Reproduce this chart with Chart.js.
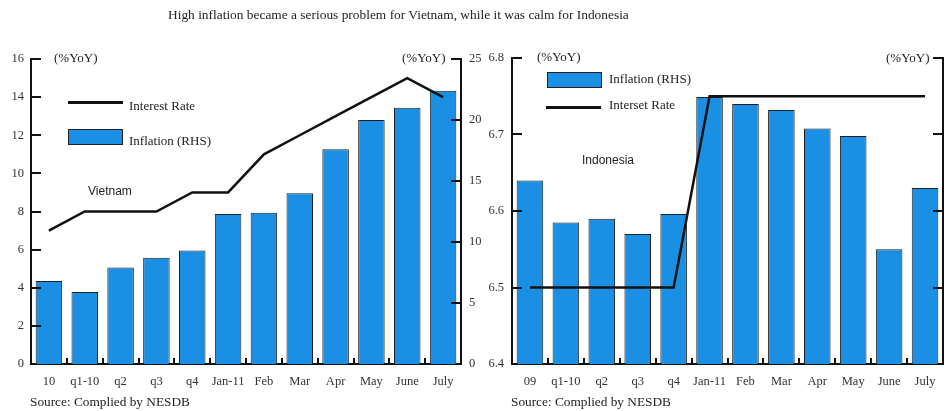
<!DOCTYPE html>
<html>
<head>
<meta charset="utf-8">
<script src="https://cdn.jsdelivr.net/npm/chart.js@4/dist/chart.umd.min.js"></script>
<style>
  html, body { margin: 0; padding: 0; background: #fff; }
  #wrap { position: relative; width: 949px; height: 411px; overflow: hidden; background: #fff; }
  canvas { position: absolute; left: 0; top: 0; }
  .t { position: absolute; white-space: nowrap; font-family: "Liberation Serif", "Times New Roman", serif; font-size: 13px; color: #222; line-height: 1; }
  .s { font-family: "Liberation Sans", Arial, sans-serif; font-size: 12px; color: #222; }
  .box { position: absolute; background: #1a8fe3; border: 1px solid #222; box-sizing: border-box; }
  .ln { position: absolute; height: 2.5px; background: #111; }
</style>
</head>
<body>
<div id="wrap">
  <canvas id="c1" width="949" height="411"></canvas>
  <canvas id="c2" width="949" height="411"></canvas>

  <div class="t" style="left:168px; top:8px; font-size:13.4px;">High inflation became a serious problem for Vietnam, while it was calm for Indonesia</div>

  <!-- Vietnam panel texts -->
  <div class="t" style="left:54px; top:51px;">(%YoY)</div>
  <div class="t" style="left:402px; top:51px;">(%YoY)</div>
  <div class="ln" style="left:68px; top:101px; width:55px;"></div>
  <div class="t" style="left:129px; top:99px;">Interest Rate</div>
  <div class="box" style="left:68px; top:129px; width:55px; height:16px;"></div>
  <div class="t" style="left:129px; top:134px;">Inflation (RHS)</div>
  <div class="t s" style="left:88px; top:185px;">Vietnam</div>
  <div class="t" style="left:30px; top:395px; font-size:13.3px;">Source: Complied by NESDB</div>

  <!-- Indonesia panel texts -->
  <div class="t" style="left:537px; top:50px;">(%YoY)</div>
  <div class="t" style="left:886px; top:51px;">(%YoY)</div>
  <div class="box" style="left:547px; top:72px; width:55px; height:16px;"></div>
  <div class="t" style="left:609px; top:72px;">Inflation (RHS)</div>
  <div class="ln" style="left:546px; top:106px; width:55px;"></div>
  <div class="t" style="left:609px; top:98px;">Interset Rate</div>
  <div class="t s" style="left:582px; top:154px;">Indonesia</div>
  <div class="t" style="left:511px; top:395px; font-size:13.3px;">Source: Complied by NESDB</div>
</div>

<script>
// ---------- Data ----------
const vnCategories = ["10", "q1-10", "q2", "q3", "q4", "Jan-11", "Feb", "Mar", "Apr", "May", "June", "July"];
const vnInflation = [6.8, 5.9, 7.9, 8.7, 9.3, 12.3, 12.4, 14.0, 17.6, 20.0, 21.0, 22.4];
const vnInterestRate = [7, 8, 8, 8, 9, 9, 11, 12, 13, 14, 15, 14];
const vnLeftTicks = [0, 16, 2];   // min, max, step
const vnRightTicks = [0, 25, 5];

const idCategories = ["09", "q1-10", "q2", "q3", "q4", "Jan-11", "Feb", "Mar", "Apr", "May", "June", "July"];
const idInflation = [6.64, 6.585, 6.59, 6.57, 6.596, 6.749, 6.74, 6.732, 6.708, 6.698, 6.55, 6.63];
const idInterestRate = [6.5, 6.5, 6.5, 6.5, 6.5, 6.75, 6.75, 6.75, 6.75, 6.75, 6.75, 6.75];
const idTicks = [6.4, 6.8, 0.1];

// ---------- Styles ----------
const BAR = '#1a8fe3';
const AXIS = '#111';
const tickFont = { family: '"Liberation Serif", "Times New Roman", serif', size: 12.5 };

const inwardTicks = {
  id: 'inwardTicks',
  afterDatasetsDraw(chart, args, opts) {
    const ctx = chart.ctx;
    const a = chart.chartArea;
    ctx.save();
    ctx.strokeStyle = AXIS;
    ctx.lineWidth = 2;
    const drawSide = (id, side) => {
      const sc = chart.scales[id];
      if (!sc) return;
      sc.ticks.forEach(t => {
        const y = Math.round(sc.getPixelForValue(t.value));
        if (y >= a.bottom - 1) return;
        ctx.beginPath();
        if (side === 'left') { ctx.moveTo(a.left, y); ctx.lineTo(a.left + 10, y); }
        else { ctx.moveTo(a.right, y); ctx.lineTo(a.right - 10, y); }
        ctx.stroke();
      });
    };
    drawSide(opts.left, 'left');
    drawSide(opts.right, 'right');
    const xs = chart.scales.x;
    const n = chart.data.labels.length;
    for (let i = 0; i < n - 1; i++) {
      const x = Math.round((xs.getPixelForValue(i) + xs.getPixelForValue(i + 1)) / 2);
      ctx.beginPath();
      ctx.moveTo(x, a.bottom);
      ctx.lineTo(x, a.bottom - 6);
      ctx.stroke();
    }
    ctx.restore();
  }
};

function makeChart(canvasId, labels, bars, line, cfg) {
  return new Chart(document.getElementById(canvasId), {
    data: {
      labels: labels,
      datasets: [
        {
          type: 'line', data: line, yAxisID: cfg.lineAxis, order: 0,
          borderColor: AXIS, borderWidth: 2.5, pointRadius: 0, tension: 0, fill: false
        },
        {
          type: 'bar', data: bars, yAxisID: cfg.barAxis, order: 1,
          backgroundColor: BAR, borderColor: '#1f1f1f', borderWidth: 1,
          categoryPercentage: 1.0, barPercentage: 0.74
        }
      ]
    },
    options: {
      responsive: false,
      animation: false,
      devicePixelRatio: 1,
      layout: { padding: { left: 0, right: 0, top: cfg.top, bottom: 0 } },
      plugins: { legend: { display: false }, tooltip: { enabled: false }, inwardTicks: { left: 'y', right: 'y1' } },
      scales: {
        x: {
          grid: { display: false, drawTicks: false },
          border: { display: true, color: AXIS, width: 2 },
          ticks: { font: tickFont, color: '#333', padding: 10, maxRotation: 0, autoSkip: false },
          afterFit: s => { s.height = 411 - 364; }
        },
        y: {
          position: 'left',
          min: cfg.left[0], max: cfg.left[1],
          grid: { display: false, drawTicks: false },
          border: { display: true, color: AXIS, width: 2 },
          ticks: { stepSize: cfg.left[2], font: tickFont, color: '#333', padding: cfg.leftPad,
                   callback: cfg.leftFmt },
          afterFit: s => { s.width = cfg.leftW; }
        },
        y1: {
          position: 'right',
          min: cfg.right[0], max: cfg.right[1],
          grid: { display: false, drawTicks: false },
          border: { display: true, color: AXIS, width: 2 },
          ticks: { stepSize: cfg.right[2], font: tickFont, color: '#333', padding: 8, display: cfg.rightLabels },
          afterFit: s => { s.width = cfg.rightW; }
        }
      }
    },
    plugins: [inwardTicks]
  });
}

makeChart('c1', vnCategories, vnInflation, vnInterestRate, {
  lineAxis: 'y', barAxis: 'y1', top: 59,
  left: vnLeftTicks, right: vnRightTicks,
  leftW: 31, rightW: 949 - 461, leftPad: 7, rightLabels: true,
  leftFmt: v => v
});

makeChart('c2', idCategories, idInflation, idInterestRate, {
  lineAxis: 'y', barAxis: 'y1', top: 58,
  left: idTicks, right: idTicks,
  leftW: 512, rightW: 949 - 943, leftPad: 8, rightLabels: false,
  leftFmt: v => Number(v).toFixed(1)
});
</script>
</body>
</html>
